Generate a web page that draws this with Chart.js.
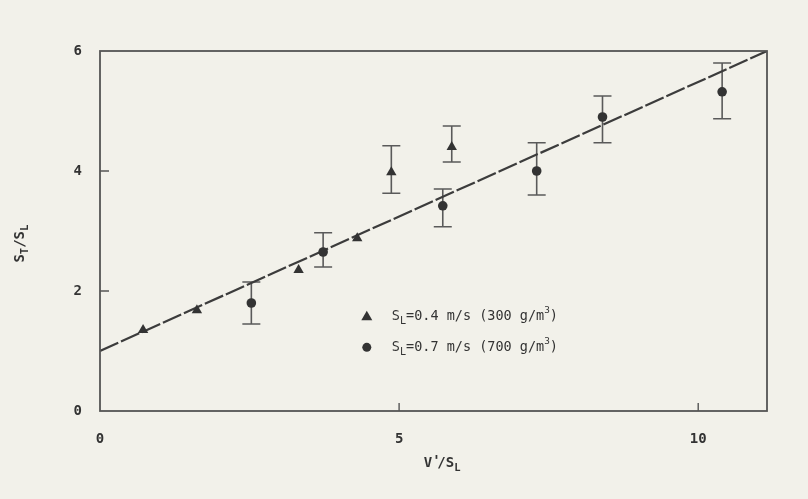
<!DOCTYPE html>
<html>
<head>
<meta charset="utf-8">
<script src="https://cdn.jsdelivr.net/npm/chart.js@4/dist/chart.umd.min.js"></script>
<style>
  html, body { margin: 0; padding: 0; background: #f2f1ea; }
  #wrap { width: 808px; height: 499px; }
</style>
</head>
<body>
<div id="wrap"><canvas id="c" width="808" height="499"></canvas></div>
<script>
// ---- data ----
const triX  = [0.72, 1.62, 3.32, 4.30, 4.87, 5.88];
const triY  = [1.35, 1.68, 2.35, 2.88, 3.98, 4.40];
const triLo = [null, null, null, null, 3.63, 4.15];
const triHi = [null, null, null, null, 4.42, 4.75];

const cirX  = [2.53, 3.73, 5.73, 7.30, 8.40, 10.40];
const cirY  = [1.80, 2.65, 3.42, 4.00, 4.90, 5.32];
const cirLo = [1.45, 2.40, 3.07, 3.60, 4.47, 4.87];
const cirHi = [2.15, 2.97, 3.70, 4.47, 5.25, 5.80];

const fitX = [0, 11.15];
const fitY = [1.0, 6.0];

const xTickLabels = [0, 5, 10];
const yTickLabels = [0, 2, 4, 6];
const xTickMarks = [5, 10];
const yTickMarks = [2, 4];

const legendRows = [
  { marker: 'triangle', sub: 'L', text: '=0.4 m/s (300 g/m', sup: '3', tail: ')' },
  { marker: 'circle',   sub: 'L', text: '=0.7 m/s (700 g/m', sup: '3', tail: ')' }
];

const INK = '#333333';
const LINE = '#555555';
const MONO = '"DejaVu Sans Mono", monospace';

function pts(xs, ys, lo, hi) {
  return xs.map((x, i) => ({ x: x, y: ys[i], lo: lo ? lo[i] : null, hi: hi ? hi[i] : null }));
}

function partFont(p, size, weight) {
  let fs = size;
  if (p.sub) fs = size * 0.75;
  if (p.sup) fs = size * 0.7;
  if (p.prime) fs = size;
  return (weight || '') + ' ' + fs + 'px ' + MONO;
}
function drawParts(ctx, parts, x, y, size, weight) {
  let cx = x;
  for (const p of parts) {
    let dy = 0;
    if (p.sub) dy = size * 0.35;
    if (p.sup) dy = -size * 0.45;
    if (p.prime) dy = -size * 0.15;
    ctx.font = partFont(p, size, weight);
    ctx.fillText(p.t, cx, y + dy);
    cx += ctx.measureText(p.t).width * (p.prime ? 0.6 : 1);
  }
  return cx - x;
}
function measureParts(ctx, parts, size, weight) {
  let w = 0;
  for (const p of parts) {
    ctx.font = partFont(p, size, weight);
    w += ctx.measureText(p.t).width * (p.prime ? 0.6 : 1);
  }
  return w;
}

const paperPlugin = {
  id: 'paper',
  beforeDraw(chart) {
    const ctx = chart.ctx;
    ctx.save();
    ctx.fillStyle = '#f2f1ea';
    ctx.fillRect(0, 0, chart.width, chart.height);
    ctx.restore();
  }
};

const errorBarPlugin = {
  id: 'errbars',
  beforeDatasetsDraw(chart) {
    const ctx = chart.ctx;
    const xs = chart.scales.x, ys = chart.scales.y;
    ctx.save();
    ctx.strokeStyle = '#5a5a5a';
    ctx.lineWidth = 1.6;
    chart.data.datasets.forEach(ds => {
      if (!ds.errorBars) return;
      ds.data.forEach(p => {
        if (p.lo == null || p.hi == null) return;
        const px = xs.getPixelForValue(p.x);
        const pl = ys.getPixelForValue(p.lo);
        const ph = ys.getPixelForValue(p.hi);
        const cap = 9;
        ctx.beginPath();
        ctx.moveTo(px, pl); ctx.lineTo(px, ph);
        ctx.moveTo(px - cap, pl); ctx.lineTo(px + cap, pl);
        ctx.moveTo(px - cap, ph); ctx.lineTo(px + cap, ph);
        ctx.stroke();
      });
    });
    ctx.restore();
  }
};

const framePlugin = {
  id: 'frame',
  afterDraw(chart) {
    const ctx = chart.ctx;
    const a = chart.chartArea;
    const xs = chart.scales.x, ys = chart.scales.y;
    ctx.save();
    // box
    ctx.strokeStyle = LINE;
    ctx.lineWidth = 1.8;
    ctx.strokeRect(a.left, a.top, a.right - a.left, a.bottom - a.top);
    // inward tick marks
    ctx.lineWidth = 1.4;
    ctx.beginPath();
    xTickMarks.forEach(v => {
      const px = xs.getPixelForValue(v);
      ctx.moveTo(px, a.bottom); ctx.lineTo(px, a.bottom - 8);
    });
    yTickMarks.forEach(v => {
      const py = ys.getPixelForValue(v);
      ctx.moveTo(a.left, py); ctx.lineTo(a.left + 9, py);
    });
    ctx.stroke();

    // axis titles
    ctx.fillStyle = INK;
    ctx.textBaseline = 'middle';
    ctx.textAlign = 'left';
    const xt = [{ t: 'V' }, { t: "'", prime: true }, { t: '/S' }, { t: 'L', sub: true }];
    const xw = measureParts(ctx, xt, 14, 'bold');
    drawParts(ctx, xt, a.left + (a.right - a.left) * 0.513 - xw / 2, a.bottom + 52, 14, 'bold');

    const yt = [{ t: 'S' }, { t: 'T', sub: true }, { t: '/S' }, { t: 'L', sub: true }];
    const yw = measureParts(ctx, yt, 14, 'bold');
    ctx.save();
    ctx.translate(a.left - 80, a.top + (a.bottom - a.top) * 0.535);
    ctx.rotate(-Math.PI / 2);
    drawParts(ctx, yt, -yw / 2, 0, 14, 'bold');
    ctx.restore();

    // legend
    const lx = a.left + (a.right - a.left) * 0.40;
    const ly0 = a.top + (a.bottom - a.top) * 0.737;
    const dy = 31;
    legendRows.forEach((r, i) => {
      const y = ly0 + i * dy;
      ctx.fillStyle = '#333';
      ctx.beginPath();
      if (r.marker === 'triangle') {
        ctx.moveTo(lx, y - 5.5); ctx.lineTo(lx + 5.5, y + 4); ctx.lineTo(lx - 5.5, y + 4); ctx.closePath();
      } else {
        ctx.arc(lx, y, 4.5, 0, Math.PI * 2);
      }
      ctx.fill();
      ctx.fillStyle = INK;
      drawParts(ctx, [{ t: 'S' }, { t: r.sub, sub: true }, { t: r.text }, { t: r.sup, sup: true }, { t: r.tail }], lx + 25, y, 13.5);
    });
    ctx.restore();
  }
};

new Chart(document.getElementById('c'), {
  type: 'scatter',
  data: {
    datasets: [
      {
        type: 'line',
        label: 'fit',
        data: fitX.map((x, i) => ({ x: x, y: fitY[i] })),
        borderColor: '#3c3c3c',
        borderWidth: 2.2,
        borderDash: [20, 3],
        pointRadius: 0,
        fill: false,
        order: 3
      },
      {
        label: 'SL=0.4 m/s (300 g/m3)',
        data: pts(triX, triY, triLo, triHi),
        errorBars: true,
        pointStyle: 'triangle',
        pointRadius: 6,
        backgroundColor: '#333',
        borderColor: '#333',
        borderWidth: 0,
        order: 1
      },
      {
        label: 'SL=0.7 m/s (700 g/m3)',
        data: pts(cirX, cirY, cirLo, cirHi),
        errorBars: true,
        pointStyle: 'circle',
        pointRadius: 4.8,
        backgroundColor: '#333',
        borderColor: '#333',
        borderWidth: 0,
        order: 1
      }
    ]
  },
  options: {
    responsive: false,
    animation: false,
    devicePixelRatio: 1,
    layout: { padding: { top: 51, right: 41, left: 0, bottom: 0 } },
    plugins: { legend: { display: false }, tooltip: { enabled: false } },
    scales: {
      x: {
        type: 'linear',
        min: 0, max: 11.15,
        afterFit(s) { s.height = 88; },
        afterBuildTicks(s) { s.ticks = xTickLabels.map(v => ({ value: v })); },
        grid: { display: false, drawTicks: false },
        border: { display: false },
        ticks: { padding: 20, color: INK, font: { family: MONO, size: 14, weight: 'bold' }, maxRotation: 0 }
      },
      y: {
        type: 'linear',
        min: 0, max: 6,
        afterFit(s) { s.width = 100; },
        afterBuildTicks(s) { s.ticks = yTickLabels.map(v => ({ value: v })); },
        grid: { display: false, drawTicks: false },
        border: { display: false },
        ticks: { padding: 18, color: INK, font: { family: MONO, size: 14, weight: 'bold' } }
      }
    }
  },
  plugins: [paperPlugin, errorBarPlugin, framePlugin]
});
</script>
</body>
</html>
